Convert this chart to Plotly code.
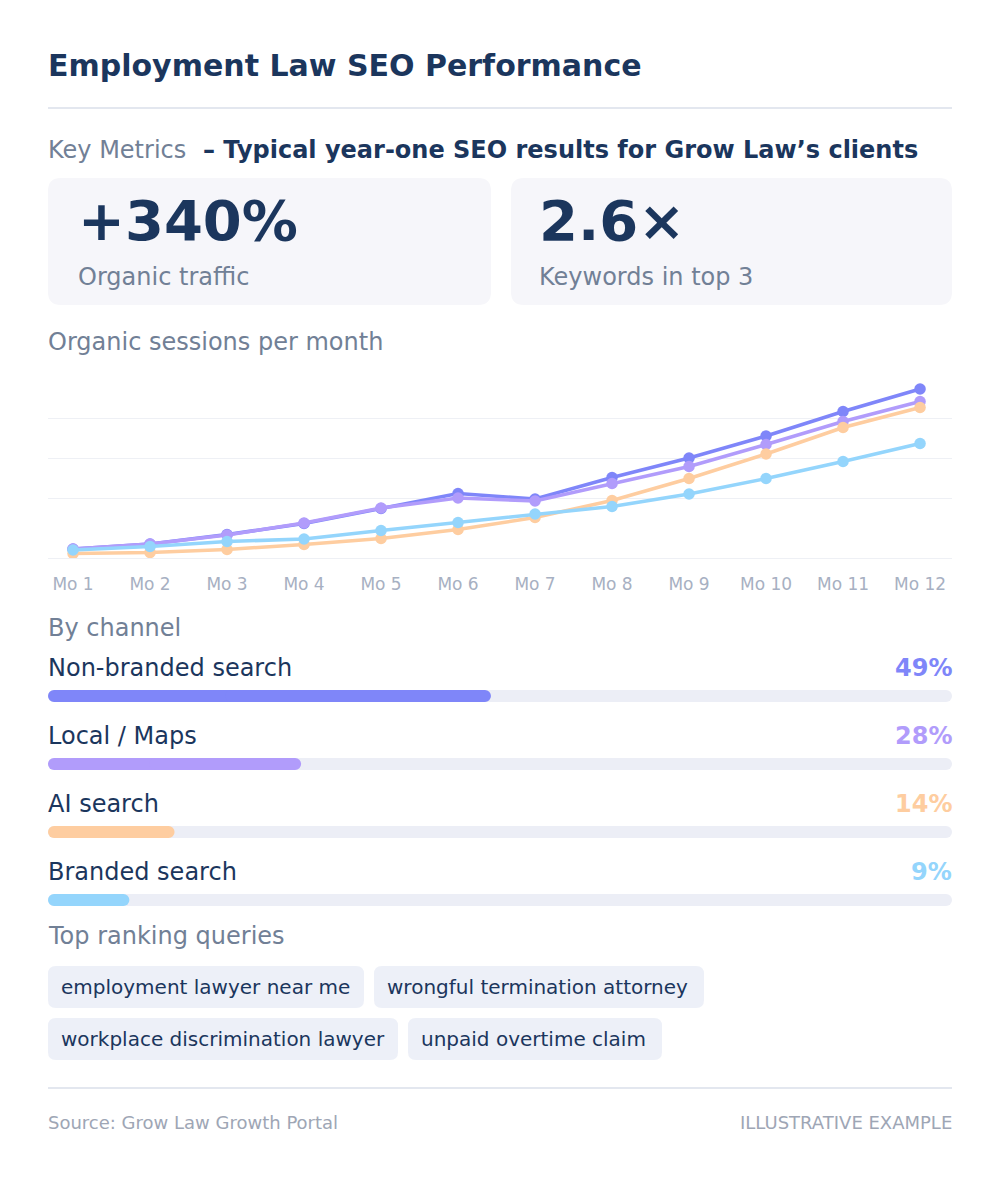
import plotly.graph_objects as go

# page offset: the browser body margin puts the figure at (8, 8)
OFF = 8
W, H = 1000 - OFF, 1180 - OFF
FONT = "DejaVu Sans"
NAVY = "#1b365d"
GRAY = "#718096"
TICK_GRAY = "#a7b0c2"
FOOT_GRAY = "#9ea6b5"
LINE_GRAY = "#e3e7ef"
GRID = "#eef0f5"
CARD = "#f6f6fa"
CHIP = "#edf0f8"
TRACK = "#eceef6"

# ---- data ----
months = ["Mo 1", "Mo 2", "Mo 3", "Mo 4", "Mo 5", "Mo 6",
          "Mo 7", "Mo 8", "Mo 9", "Mo 10", "Mo 11", "Mo 12"]
non_branded = [90, 140, 235, 345, 495, 645, 590, 805, 1000, 1220, 1465, 1690]
local_maps = [90, 140, 230, 350, 500, 600, 570, 745, 915, 1135, 1365, 1565]
ai_search = [45, 55, 85, 135, 195, 285, 405, 575, 795, 1040, 1305, 1505]
branded = [80, 115, 165, 190, 275, 355, 440, 515, 640, 795, 965, 1145]
grid_vals = [600, 1000, 1400]

channels = ["Non-branded search", "Local / Maps", "AI search", "Branded search"]
channel_share = [49, 28, 14, 9]
channel_colors = ["#7f86f9", "#b19cfb", "#fecda0", "#94d5fc"]

metric_values = ["+340%", "2.6×"]
metric_labels = ["Organic traffic", "Keywords in top 3"]

queries = ["employment lawyer near me", "wrongful termination attorney",
           "workplace discrimination lawyer", "unpaid overtime claim"]


def px(x):
    return (x - OFF) / W


def py(y):
    return 1 - (y - OFF) / H


def rounded_rect(x0, y0, x1, y1, r, color):
    """Rounded rectangle in page pixel coords, converted to paper space."""
    rx, ry = r / W, r / H
    a0, a1, b0, b1 = px(x0), px(x1), py(y1), py(y0)
    path = (f"M{a0 + rx},{b0} L{a1 - rx},{b0} Q{a1},{b0} {a1},{b0 + ry} "
            f"L{a1},{b1 - ry} Q{a1},{b1} {a1 - rx},{b1} L{a0 + rx},{b1} "
            f"Q{a0},{b1} {a0},{b1 - ry} L{a0},{b0 + ry} Q{a0},{b0} {a0 + rx},{b0} Z")
    return dict(type="path", xref="paper", yref="paper", path=path,
                fillcolor=color, line=dict(width=0), layer="below")


def hline(y, color=LINE_GRAY):
    return dict(type="line", xref="paper", yref="paper", x0=px(48), x1=px(952),
                y0=py(y), y1=py(y), line=dict(color=color, width=2), layer="below")


annotations = []


def text(x, y, s, size, color, bold=False, anchor="left"):
    if bold:
        s = f"<b>{s}</b>"
    annotations.append(dict(x=px(x), y=py(y), xref="paper", yref="paper", text=s,
                            showarrow=False, xanchor=anchor, yanchor="middle",
                            font=dict(family=FONT, size=size, color=color)))


fig = go.Figure()

# ---- line chart ----
series = [("Non-branded search", non_branded), ("Local / Maps", local_maps),
          ("AI search", ai_search), ("Branded search", branded)]
for (name, vals), col in zip(series, channel_colors):
    fig.add_trace(go.Scatter(
        x=list(range(len(months))), y=vals, name=name, mode="lines+markers",
        line=dict(color=col, width=3.5), marker=dict(color=col, size=11.5),
        xaxis="x", yaxis="y", showlegend=False,
        hovertemplate=name + "<br>%{text}: %{y}<extra></extra>", text=months,
    ))

# ---- channel bars (pill shape from two overlapping halves) ----
rows = list(range(len(channels)))
bar_w = 12 / 68
full = [100] * len(channels)
for vals, colors in ((full, TRACK), (channel_share, channel_colors)):
    halves = (([v * 0.6 for v in vals], [-v * 0.6 for v in vals]),
              ([v * 0.4 for v in vals], [v * 0.6 for v in vals]))
    for base, length in halves:
        fig.add_trace(go.Bar(x=length, base=base, y=rows, orientation="h", width=bar_w,
                             marker=dict(color=colors, cornerradius=6, line=dict(width=0)),
                             xaxis="x2", yaxis="y2", showlegend=False,
                             customdata=channels,
                             hovertemplate="%{customdata}<extra></extra>"))

# ---- shapes ----
shapes = [
    hline(108),
    rounded_rect(48, 178, 491, 305, 13, CARD),
    rounded_rect(511, 178, 952, 305, 13, CARD),
    hline(1088),
]
chip_boxes = [(48, 966, 364, 1008), (374, 966, 704, 1008),
              (48, 1018, 398, 1060), (408, 1018, 662, 1060)]
for (x0, y0, x1, y1) in chip_boxes:
    shapes.append(rounded_rect(x0, y0, x1, y1, 8, CHIP))

# ---- texts ----
text(46, 65, "Employment Law SEO Performance", 30, NAVY, bold=True)
text(46, 150, "Key Metrics", 24, GRAY)
text(201, 150, "– Typical year-one SEO results for Grow Law’s clients", 24, NAVY, bold=True)
text(76, 221, metric_values[0], 56, NAVY, bold=True)
text(537, 221, metric_values[1], 56, NAVY, bold=True)
text(76, 277, metric_labels[0], 24, GRAY)
text(537, 277, metric_labels[1], 24, GRAY)
text(46, 342, "Organic sessions per month", 24, GRAY)
text(46, 628, "By channel", 24, GRAY)
for i, (name, share, col) in enumerate(zip(channels, channel_share, channel_colors)):
    yc = 668 + 68 * i
    text(46, yc, name, 24, NAVY)
    text(954, yc, f"{share}%", 24, col, bold=True, anchor="right")
text(46, 936, "Top ranking queries", 24, GRAY)
for q, (x0, y0, x1, y1) in zip(queries, chip_boxes):
    text(x0 + 11, (y0 + y1) / 2, q, 20, NAVY)
text(46, 1122, "Source: Grow Law Growth Portal", 18, FOOT_GRAY)
text(954, 1122, "ILLUSTRATIVE EXAMPLE", 18, FOOT_GRAY, anchor="right")

fig.update_layout(
    width=W, height=H,
    margin=dict(l=0, r=0, t=0, b=0),
    paper_bgcolor="white", plot_bgcolor="rgba(0,0,0,0)",
    font=dict(family=FONT, color=NAVY),
    barmode="overlay",
    shapes=shapes, annotations=annotations,
    xaxis=dict(domain=[px(48), px(952)], range=[-0.325, 11.415],
               tickvals=list(range(len(months))), ticktext=months,
               showgrid=False, zeroline=False, showline=True, linecolor=GRID, linewidth=1,
               ticks="outside", ticklen=11, tickcolor="rgba(0,0,0,0)",
               tickfont=dict(family=FONT, size=17, color=TICK_GRAY), anchor="y"),
    yaxis=dict(domain=[py(558), py(378)], range=[0, 1800], tickvals=grid_vals,
               showticklabels=False, showgrid=True, gridcolor=GRID, gridwidth=1,
               zeroline=False, anchor="x"),
    xaxis2=dict(domain=[px(48), px(952)], range=[0, 100], visible=False, anchor="y2"),
    yaxis2=dict(domain=[py(934), py(662)], range=[3.5, -0.5], visible=False, anchor="x2"),
    hovermode="closest",
)

fig.write_html("out.html")
